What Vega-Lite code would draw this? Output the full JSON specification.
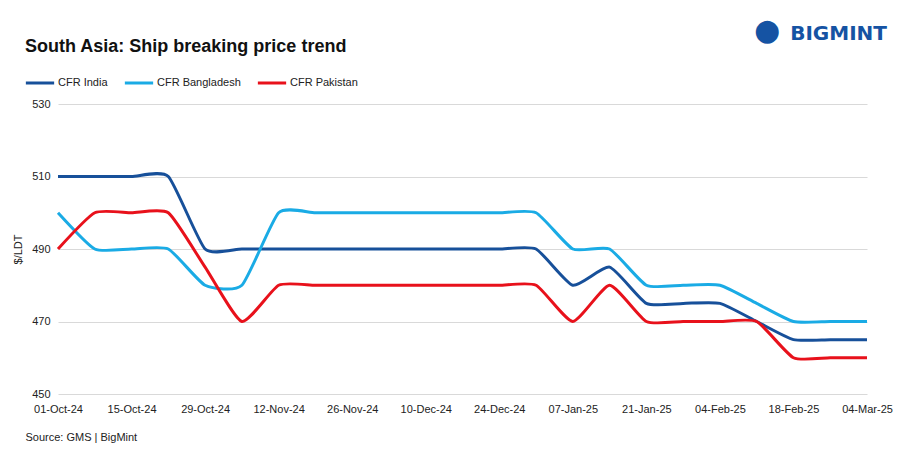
{
  "$schema": "https://vega.github.io/schema/vega-lite/v6.json",
  "width": 809,
  "height": 290,
  "autosize": {"type": "none"},
  "padding": {"left": 58, "top": 104, "right": 39, "bottom": 62},
  "background": "white",
  "config": {
    "view": {"stroke": null},
    "font": "Liberation Sans",
    "axis": {"labelFont": "Liberation Sans", "titleFont": "Liberation Sans"}
  },
  "title": {
    "text": "South Asia: Ship breaking  price trend",
    "anchor": "start",
    "frame": "group",
    "fontSize": 18,
    "fontWeight": "bold",
    "color": "#111111",
    "dx": -33,
    "dy": 40,
    "offset": 0
  },
  "datasets": {
    "prices": [
      {"date": "2024-10-01", "series": "CFR India", "price": 510},
      {"date": "2024-10-08", "series": "CFR India", "price": 510},
      {"date": "2024-10-15", "series": "CFR India", "price": 510},
      {"date": "2024-10-22", "series": "CFR India", "price": 510},
      {"date": "2024-10-29", "series": "CFR India", "price": 490},
      {"date": "2024-11-05", "series": "CFR India", "price": 490},
      {"date": "2024-11-12", "series": "CFR India", "price": 490},
      {"date": "2024-11-19", "series": "CFR India", "price": 490},
      {"date": "2024-11-26", "series": "CFR India", "price": 490},
      {"date": "2024-12-03", "series": "CFR India", "price": 490},
      {"date": "2024-12-10", "series": "CFR India", "price": 490},
      {"date": "2024-12-17", "series": "CFR India", "price": 490},
      {"date": "2024-12-24", "series": "CFR India", "price": 490},
      {"date": "2024-12-31", "series": "CFR India", "price": 490},
      {"date": "2025-01-07", "series": "CFR India", "price": 480},
      {"date": "2025-01-14", "series": "CFR India", "price": 485},
      {"date": "2025-01-21", "series": "CFR India", "price": 475},
      {"date": "2025-01-28", "series": "CFR India", "price": 475},
      {"date": "2025-02-04", "series": "CFR India", "price": 475},
      {"date": "2025-02-11", "series": "CFR India", "price": 470},
      {"date": "2025-02-18", "series": "CFR India", "price": 465},
      {"date": "2025-02-25", "series": "CFR India", "price": 465},
      {"date": "2025-03-04", "series": "CFR India", "price": 465},
      {"date": "2024-10-01", "series": "CFR Bangladesh", "price": 500},
      {"date": "2024-10-08", "series": "CFR Bangladesh", "price": 490},
      {"date": "2024-10-15", "series": "CFR Bangladesh", "price": 490},
      {"date": "2024-10-22", "series": "CFR Bangladesh", "price": 490},
      {"date": "2024-10-29", "series": "CFR Bangladesh", "price": 480},
      {"date": "2024-11-05", "series": "CFR Bangladesh", "price": 480},
      {"date": "2024-11-12", "series": "CFR Bangladesh", "price": 500},
      {"date": "2024-11-19", "series": "CFR Bangladesh", "price": 500},
      {"date": "2024-11-26", "series": "CFR Bangladesh", "price": 500},
      {"date": "2024-12-03", "series": "CFR Bangladesh", "price": 500},
      {"date": "2024-12-10", "series": "CFR Bangladesh", "price": 500},
      {"date": "2024-12-17", "series": "CFR Bangladesh", "price": 500},
      {"date": "2024-12-24", "series": "CFR Bangladesh", "price": 500},
      {"date": "2024-12-31", "series": "CFR Bangladesh", "price": 500},
      {"date": "2025-01-07", "series": "CFR Bangladesh", "price": 490},
      {"date": "2025-01-14", "series": "CFR Bangladesh", "price": 490},
      {"date": "2025-01-21", "series": "CFR Bangladesh", "price": 480},
      {"date": "2025-01-28", "series": "CFR Bangladesh", "price": 480},
      {"date": "2025-02-04", "series": "CFR Bangladesh", "price": 480},
      {"date": "2025-02-11", "series": "CFR Bangladesh", "price": 475},
      {"date": "2025-02-18", "series": "CFR Bangladesh", "price": 470},
      {"date": "2025-02-25", "series": "CFR Bangladesh", "price": 470},
      {"date": "2025-03-04", "series": "CFR Bangladesh", "price": 470},
      {"date": "2024-10-01", "series": "CFR Pakistan", "price": 490},
      {"date": "2024-10-08", "series": "CFR Pakistan", "price": 500},
      {"date": "2024-10-15", "series": "CFR Pakistan", "price": 500},
      {"date": "2024-10-22", "series": "CFR Pakistan", "price": 500},
      {"date": "2024-10-29", "series": "CFR Pakistan", "price": 485},
      {"date": "2024-11-05", "series": "CFR Pakistan", "price": 470},
      {"date": "2024-11-12", "series": "CFR Pakistan", "price": 480},
      {"date": "2024-11-19", "series": "CFR Pakistan", "price": 480},
      {"date": "2024-11-26", "series": "CFR Pakistan", "price": 480},
      {"date": "2024-12-03", "series": "CFR Pakistan", "price": 480},
      {"date": "2024-12-10", "series": "CFR Pakistan", "price": 480},
      {"date": "2024-12-17", "series": "CFR Pakistan", "price": 480},
      {"date": "2024-12-24", "series": "CFR Pakistan", "price": 480},
      {"date": "2024-12-31", "series": "CFR Pakistan", "price": 480},
      {"date": "2025-01-07", "series": "CFR Pakistan", "price": 470},
      {"date": "2025-01-14", "series": "CFR Pakistan", "price": 480},
      {"date": "2025-01-21", "series": "CFR Pakistan", "price": 470},
      {"date": "2025-01-28", "series": "CFR Pakistan", "price": 470},
      {"date": "2025-02-04", "series": "CFR Pakistan", "price": 470},
      {"date": "2025-02-11", "series": "CFR Pakistan", "price": 470},
      {"date": "2025-02-18", "series": "CFR Pakistan", "price": 460},
      {"date": "2025-02-25", "series": "CFR Pakistan", "price": 460},
      {"date": "2025-03-04", "series": "CFR Pakistan", "price": 460}
    ],
    "logo": [{"date": "2025-03-04", "price": 535, "label": "BIGMINT", "icon": "●"}]
  },
  "layer": [
    {
      "data": {"name": "prices"},
      "mark": {"type": "line", "interpolate": "cardinal", "tension": 0.45, "strokeWidth": 3, "clip": false},
      "encoding": {
        "x": {
          "field": "date",
          "type": "temporal",
          "scale": {"domain": ["2024-10-01T00:00:00", "2025-03-04T00:00:00"]},
          "axis": {
            "values": ["2024-10-01T00:00:00", "2024-10-15T00:00:00", "2024-10-29T00:00:00", "2024-11-12T00:00:00", "2024-11-26T00:00:00", "2024-12-10T00:00:00", "2024-12-24T00:00:00", "2025-01-07T00:00:00", "2025-01-21T00:00:00", "2025-02-04T00:00:00", "2025-02-18T00:00:00", "2025-03-04T00:00:00"],
            "format": "%d-%b-%y",
            "grid": false,
            "domain": false,
            "ticks": false,
            "labelFontSize": 11,
            "labelColor": "#222222",
            "labelPadding": 9,
            "labelFlush": false,
            "title": "Source: GMS | BigMint",
            "titleFontSize": 11,
            "titleFontWeight": "normal",
            "titleColor": "#222222",
            "titleAnchor": "start",
            "titleAlign": "left",
            "titleX": -33,
            "titleY": 37
          }
        },
        "y": {
          "field": "price",
          "type": "quantitative",
          "scale": {"domain": [450, 530], "nice": false, "zero": false},
          "axis": {
            "values": [450, 470, 490, 510, 530],
            "grid": true,
            "gridColor": "#d9d9d9",
            "domain": false,
            "ticks": false,
            "labelFontSize": 11,
            "labelColor": "#222222",
            "labelPadding": 8,
            "title": "$/LDT",
            "titleFontSize": 11,
            "titleFontWeight": "normal",
            "titleColor": "#222222",
            "titlePadding": 8
          }
        },
        "color": {
          "field": "series",
          "type": "nominal",
          "scale": {
            "domain": ["CFR India", "CFR Bangladesh", "CFR Pakistan"],
            "range": ["#17509a", "#1aabe5", "#e8111b"]
          },
          "legend": {
            "orient": "none",
            "legendX": -34,
            "legendY": -37,
            "direction": "horizontal",
            "title": null,
            "symbolType": "stroke",
            "symbolStrokeWidth": 3,
            "symbolSize": 800,
            "labelFontSize": 11,
            "labelColor": "#222222",
            "columnPadding": 10,
            "labelOffset": 2
          }
        }
      }
    },
    {
      "data": {"name": "logo"},
      "mark": {"type": "text", "align": "right", "baseline": "middle", "fontSize": 20, "fontWeight": "bold", "color": "#1553a3", "dx": 20, "dy": -52, "font": "DejaVu Sans"},
      "encoding": {
        "x": {"field": "date", "type": "temporal"},
        "y": {"field": "price", "type": "quantitative"},
        "text": {"field": "label"}
      }
    },
    {
      "data": {"name": "logo"},
      "mark": {"type": "text", "align": "center", "baseline": "middle", "fontSize": 30, "color": "#1553a3", "dx": -100, "dy": -55, "font": "DejaVu Sans"},
      "encoding": {
        "x": {"field": "date", "type": "temporal"},
        "y": {"field": "price", "type": "quantitative"},
        "text": {"field": "icon"}
      }
    }
  ]
}
